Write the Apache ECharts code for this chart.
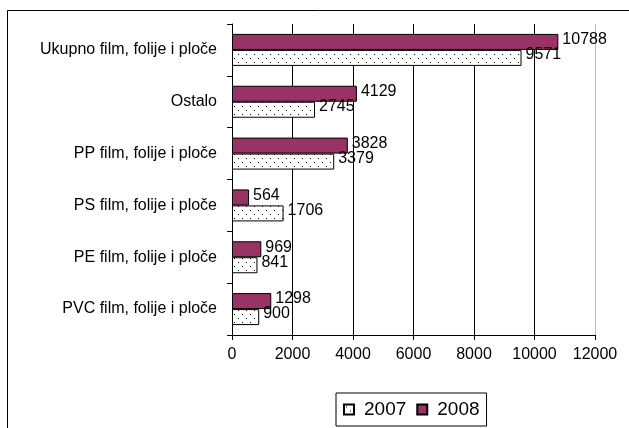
<!DOCTYPE html>
<html>
<head>
<meta charset="utf-8">
<script src="https://cdn.jsdelivr.net/npm/echarts@6/dist/echarts.min.js"></script>
<style>
  html, body { margin: 0; padding: 0; background: #fff; }
  #main { width: 629px; height: 428px; }
</style>
</head>
<body>
<div id="main"></div>
<script>
  // kategorije odozdo prema gore
  var categories = ['PVC film, folije i ploče', 'PE film, folije i ploče', 'PS film, folije i ploče',
    'PP film, folije i ploče', 'Ostalo', 'Ukupno film, folije i ploče'];
  var values2007 = [900, 841, 1706, 3379, 2745, 9571];
  var values2008 = [1298, 969, 564, 3828, 4129, 10788];
  var seriesNames = ['2007', '2008'];

  // točkasti uzorak za 2007
  var pat = document.createElement('canvas');
  pat.width = 8; pat.height = 8;
  var ctx = pat.getContext('2d');
  ctx.fillStyle = '#fff';
  ctx.fillRect(0, 0, 8, 8);
  ctx.fillStyle = '#000';
  ctx.fillRect(2, 2, 1, 1);
  ctx.fillRect(6, 6, 1, 1);

  var font = 'Liberation Sans, Arial, sans-serif';
  var myChart = echarts.init(document.getElementById('main'));
  myChart.setOption({
    animation: false,
    textStyle: { fontFamily: font },
    graphic: [{
      type: 'rect',
      shape: { x: 7.5, y: 10.5, width: 700, height: 500 },
      style: { fill: 'none', stroke: '#000', lineWidth: 1 },
      silent: true
    }],
    grid: { left: 232, right: 34, top: 24, bottom: 93 },
    legend: {
      data: seriesNames,
      left: 336,
      top: 393,
      icon: 'rect',
      itemWidth: 10,
      itemHeight: 10,
      itemGap: 10,
      padding: [7, 7, 7, 7],
      borderColor: '#000',
      borderWidth: 1,
      textStyle: { fontSize: 19, color: '#000', fontFamily: font, padding: [0, 0, 0, 5] }
    },
    xAxis: {
      type: 'value',
      min: 0,
      max: 12000,
      interval: 2000,
      axisLine: { show: true, lineStyle: { color: '#000' } },
      axisTick: { show: true, length: 5, lineStyle: { color: '#000' } },
      axisLabel: { fontSize: 16, color: '#000', margin: 12, formatter: function (v) { return String(v); } },
      splitLine: {
        show: true,
        lineStyle: { color: ['#000', '#000', '#000', '#000', '#000', '#000', '#c0c0c0'] }
      }
    },
    yAxis: {
      type: 'category',
      data: categories,
      axisLine: { show: true, lineStyle: { color: '#000' } },
      axisTick: { show: true, length: 5, lineStyle: { color: '#000' } },
      axisLabel: { fontSize: 16, color: '#000', margin: 15 }
    },
    series: [{
      name: seriesNames[1],
      type: 'bar',
      data: values2008,
      barWidth: 16,
      barGap: 0,
      itemStyle: { color: '#993366', borderColor: '#000', borderWidth: 1 },
      label: { show: true, position: 'right', distance: 4, fontSize: 16, color: '#000', offset: [0, -2] }
    }, {
      name: seriesNames[0],
      type: 'bar',
      data: values2007,
      barWidth: 16,
      barGap: 0,
      itemStyle: { color: { image: pat, repeat: 'repeat' }, borderColor: '#000', borderWidth: 1 },
      label: { show: true, position: 'right', distance: 4, fontSize: 16, color: '#000', offset: [0, -3] }
    }]
  });
  window.onresize = function () {
    myChart.resize();
  };
</script>
</body>
</html>
